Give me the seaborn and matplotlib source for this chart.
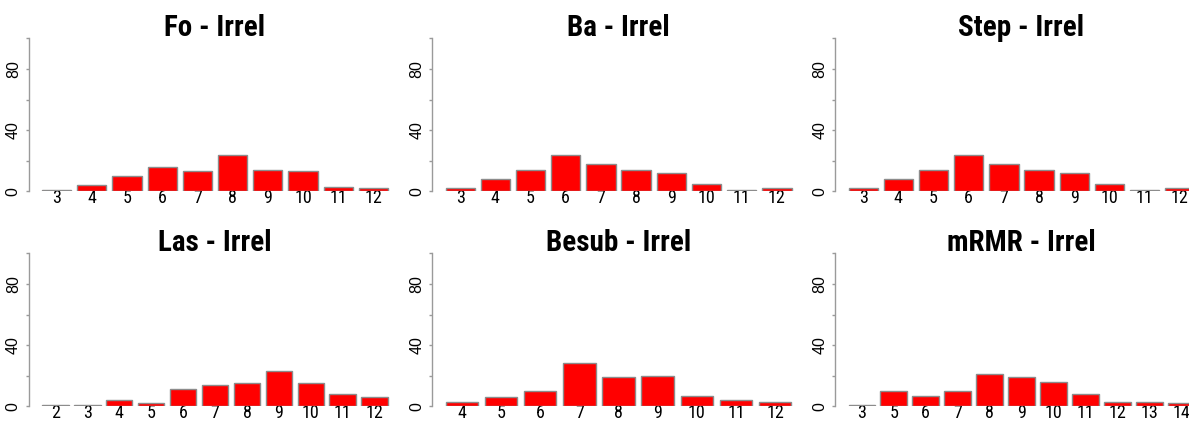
import matplotlib
matplotlib.use("Agg")
import matplotlib.pyplot as plt
import seaborn as sns
import pandas as pd

# number of selected variables (x categories) and percentage of runs
fo_sizes = [3, 4, 5, 6, 7, 8, 9, 10, 11, 12]
fo_pct = [1, 4, 10, 16, 13, 24, 14, 13, 3, 2]

ba_sizes = [3, 4, 5, 6, 7, 8, 9, 10, 11, 12]
ba_pct = [2, 8, 14, 24, 18, 14, 12, 5, 1, 2]

step_sizes = [3, 4, 5, 6, 7, 8, 9, 10, 11, 12]
step_pct = [2, 8, 14, 24, 18, 14, 12, 5, 1, 2]

las_sizes = [2, 3, 4, 5, 6, 7, 8, 9, 10, 11, 12]
las_pct = [1, 1, 4, 2, 11, 14, 15, 23, 15, 8, 6]

besub_sizes = [4, 5, 6, 7, 8, 9, 10, 11, 12]
besub_pct = [3, 6, 10, 28, 19, 20, 7, 4, 3]

mrmr_sizes = [3, 5, 6, 7, 8, 9, 10, 11, 12, 13, 14]
mrmr_pct = [1, 10, 7, 10, 21, 19, 16, 8, 3, 3, 2]

titles = ["Fo - Irrel", "Ba - Irrel", "Step - Irrel",
          "Las - Irrel", "Besub - Irrel", "mRMR - Irrel"]
panels = [(fo_sizes, fo_pct), (ba_sizes, ba_pct), (step_sizes, step_pct),
          (las_sizes, las_pct), (besub_sizes, besub_pct), (mrmr_sizes, mrmr_pct)]
y_ticks = [0, 40, 80]
y_minor = [20, 60, 100]

sns.set_theme(style="white")
narrow = ["Roboto Condensed", "PT Sans Narrow", "Liberation Sans", "DejaVu Sans"]
plain = ["Liberation Sans", "DejaVu Sans"]

W, H = 1189, 421
fig = plt.figure(figsize=(W / 100, H / 100), dpi=100)

bar_w = 0.833
span_px = 346      # from first bar's left edge to last bar's right edge
gap_px = 13.5      # between y spine and first bar
lefts = [28.5, 432, 835]
tops = [38.3, 253.3]
ax_h = 153

for i, ((sizes, pct), title) in enumerate(zip(panels, titles)):
    row, col = divmod(i, 3)
    n = len(sizes)
    pitch = span_px / (n - 1 + bar_w)
    ax_w = span_px + 2 * gap_px
    left = lefts[col]
    top = tops[row]
    ax = fig.add_axes([left / W, 1 - (top + ax_h) / H, ax_w / W, ax_h / H])

    df = pd.DataFrame({"size": [str(s) for s in sizes], "pct": pct})
    sns.barplot(data=df, x="size", y="pct", ax=ax, color="#ff0000",
                saturation=1, width=bar_w, edgecolor="#8c8c8c", linewidth=1)

    off = bar_w / 2 + gap_px / pitch
    ax.set_xlim(-off, n - 1 + off)
    ax.set_ylim(0, 100)

    ax.set_xticks(range(n))
    ax.set_xticklabels([str(s) for s in sizes], fontsize=13, family=narrow,
                       color="black")
    ax.set_yticks(y_ticks)
    ax.set_yticks(y_minor, minor=True)
    ax.set_yticklabels([str(t) for t in y_ticks], fontsize=11.5, family=plain,
                       rotation=90, va="center", color="black")

    ax.tick_params(axis="y", which="both", direction="out", length=2.5,
                   width=1, color="#9a9a9a", left=True, pad=3)
    ax.tick_params(axis="x", length=0, pad=-1.5)

    ax.set_xlabel("")
    ax.set_ylabel("")
    for side in ["top", "right", "bottom"]:
        ax.spines[side].set_visible(False)
    ax.spines["left"].set_color("#9a9a9a")
    ax.spines["left"].set_linewidth(1)
    ax.grid(False)

    ax.set_title(title, fontsize=21, fontweight="bold", family=narrow,
                 pad=1.5, color="black")

fig.savefig("out.png", dpi=100, facecolor="white")
